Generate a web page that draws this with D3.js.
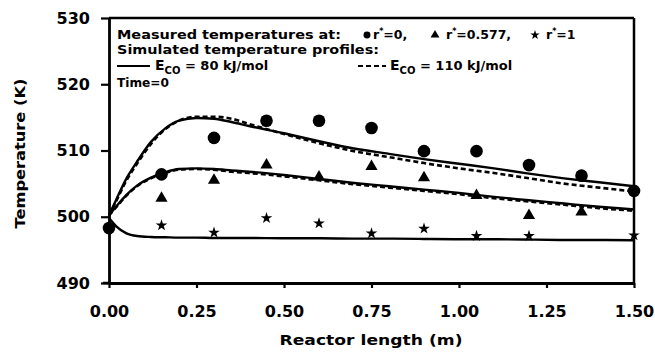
<!DOCTYPE html>
<html><head><meta charset="utf-8">
<script src="https://cdn.jsdelivr.net/npm/d3@7"></script>
<style>
html,body{margin:0;padding:0;background:#fff;}
svg{display:block;font-family:"DejaVu Sans",sans-serif;font-weight:bold;}
</style></head>
<body>
<svg id="c" width="655" height="354"></svg>
<script>
// ---- data ----
const xTicks = [0, 0.25, 0.5, 0.75, 1.0, 1.25, 1.5];
const yTicks = [490, 500, 510, 520, 530];
const xCenter = [0, 0.15, 0.3, 0.45, 0.6, 0.75, 0.9, 1.05, 1.2, 1.35, 1.5];
const tCenter = [498.3, 506.4, 511.9, 514.5, 514.5, 513.4, 509.9, 509.9, 507.8, 506.2, 503.9];
const xMid = [0.15, 0.3, 0.45, 0.6, 0.75, 0.9, 1.05, 1.2, 1.35];
const tMid = [502.8, 505.5, 507.8, 506.0, 507.6, 505.9, 503.2, 500.2, 500.7];
const xWall = [0.15, 0.3, 0.45, 0.6, 0.75, 0.9, 1.05, 1.2, 1.5];
const tWall = [498.7, 497.6, 499.8, 499.0, 497.5, 498.2, 497.1, 497.1, 497.2];

const xSim = [0, 0.02, 0.05, 0.08, 0.12, 0.16, 0.2, 0.25, 0.3, 0.35, 0.4, 0.5, 0.6, 0.7, 0.8, 0.9, 1.0, 1.1, 1.2, 1.3, 1.4, 1.5];
const simCenter80  = [500.2, 502.5, 505.8, 508.3, 511.3, 513.3, 514.5, 514.9, 514.8, 514.3, 513.7, 512.6, 511.4, 510.3, 509.5, 508.7, 508.0, 507.3, 506.5, 505.8, 505.2, 504.6];
const simCenter110 = [500.2, 502.3, 505.5, 508.0, 511.0, 513.2, 514.5, 515.1, 515.1, 514.8, 514.0, 512.5, 511.1, 509.9, 509.0, 508.1, 507.3, 506.6, 505.8, 505.0, 504.4, 503.8];
const simMid80  = [500.2, 501.5, 503.3, 504.7, 505.9, 506.7, 507.2, 507.3, 507.2, 507.0, 506.8, 506.3, 505.7, 505.1, 504.6, 504.1, 503.6, 503.0, 502.5, 502.0, 501.5, 501.1];
const simMid110 = [500.2, 501.4, 503.2, 504.6, 505.8, 506.6, 507.1, 507.2, 507.1, 506.8, 506.6, 506.1, 505.5, 504.9, 504.4, 503.9, 503.4, 502.8, 502.3, 501.8, 501.3, 500.9];
const simWall80 = [499.8, 498.6, 497.5, 497.1, 496.95, 496.9, 496.85, 496.85, 496.8, 496.8, 496.8, 496.75, 496.75, 496.7, 496.7, 496.65, 496.6, 496.6, 496.55, 496.5, 496.5, 496.45];

const legendTitle = "Measured temperatures at:";
const legendSim = "Simulated temperature profiles:";
const legendTime = "Time=0";

// ---- drawing ----
const svg = d3.select("#c");
const x = d3.scaleLinear().domain([0, 1.5]).range([109, 634]);
const y = d3.scaleLinear().domain([490, 530]).range([283, 18]);

// frame (top, right)
const frame = svg.append("g").attr("stroke", "#000").attr("stroke-width", 2.5).attr("fill", "none");
frame.append("line").attr("x1", x(0)).attr("x2", x(1.5)).attr("y1", y(530)).attr("y2", y(530));
frame.append("line").attr("x1", x(1.5)).attr("x2", x(1.5)).attr("y1", y(530)).attr("y2", y(490));

// axes
const yAxis = svg.append("g").attr("transform", `translate(${x(0)},0)`)
  .call(d3.axisLeft(y).tickValues(yTicks).tickSize(8).tickSizeOuter(0).tickPadding(11));
const xAxis = svg.append("g").attr("transform", `translate(0,${y(490)})`)
  .call(d3.axisBottom(x).tickValues(xTicks).tickFormat(d3.format(".2f")).tickSize(5).tickSizeOuter(0).tickPadding(18));
[xAxis, yAxis].forEach(g => {
  g.select(".domain").attr("stroke", "#000").attr("stroke-width", 2.8);
  g.selectAll(".tick line").attr("stroke", "#000").attr("stroke-width", 2.2);
  g.selectAll(".tick text").attr("fill", "#000").style("font-size", "16px").style("font-weight", "bold")
    .style("font-family", "'DejaVu Sans',sans-serif");
});
// small extension of x axis to the left
svg.append("line").attr("x1", x(0) - 6).attr("x2", x(0)).attr("y1", y(490)).attr("y2", y(490))
  .attr("stroke", "#000").attr("stroke-width", 2.5);

// axis titles
svg.append("text").attr("transform", `translate(25,${(y(490) + y(530)) / 2 + 3}) rotate(-90)`)
  .attr("text-anchor", "middle").style("font-size", "14px").attr("textLength", 150)
  .attr("lengthAdjust", "spacingAndGlyphs").text("Temperature (K)");
svg.append("text").attr("x", 371).attr("y", 345).attr("text-anchor", "middle")
  .style("font-size", "14px").attr("textLength", 183).attr("lengthAdjust", "spacingAndGlyphs")
  .text("Reactor length (m)");

// simulated curves
const line = d3.line().x((d, i) => x(xSim[i])).y(d => y(d)).curve(d3.curveMonotoneX);
const curves = svg.append("g").attr("fill", "none").attr("stroke", "#000").attr("stroke-width", 2.4);
[[simCenter110, true], [simMid110, true], [simCenter80, false], [simMid80, false], [simWall80, false]]
  .forEach(([s, dashed]) => {
    curves.append("path").attr("d", line(s))
      .attr("stroke-dasharray", dashed ? "5,3" : null)
      .attr("stroke-width", dashed ? 2.6 : 2.4);
  });

// measured markers
const sym = (type, size) => d3.symbol().type(type).size(size)();
const marks = svg.append("g").attr("fill", "#000");
tCenter.forEach((t, i) => marks.append("path").attr("d", sym(d3.symbolCircle, 125))
  .attr("transform", `translate(${x(xCenter[i])},${y(t)})`));
tMid.forEach((t, i) => marks.append("path").attr("d", sym(d3.symbolTriangle, 64))
  .attr("transform", `translate(${x(xMid[i])},${y(t)})`));
tWall.forEach((t, i) => marks.append("path").attr("d", sym(d3.symbolStar, 42))
  .attr("transform", `translate(${x(xWall[i])},${y(t)})`));

// legend
const lg = svg.append("g").style("font-size", "12.5px");
const r1 = 39, r2 = 54, r3 = 70, r4 = 87;
lg.append("text").attr("x", 117).attr("y", r1).attr("textLength", 224).attr("lengthAdjust", "spacingAndGlyphs").text(legendTitle);
lg.append("path").attr("d", sym(d3.symbolCircle, 38)).attr("transform", `translate(367,${r1 - 4})`);
const rStar = (xx, val) => {
  const t = lg.append("text").attr("x", xx).attr("y", r1);
  t.append("tspan").text("r");
  t.append("tspan").attr("dy", -5).style("font-size", "8px").text("*");
  t.append("tspan").attr("dy", 5).text(val);
};
rStar(373, "=0,");
lg.append("path").attr("d", sym(d3.symbolTriangle, 34)).attr("transform", `translate(435,${r1 - 4})`);
rStar(446, "=0.577,");
lg.append("path").attr("d", sym(d3.symbolStar, 28)).attr("transform", `translate(535,${r1 - 4})`);
rStar(546, "=1");
lg.append("text").attr("x", 117).attr("y", r2).attr("textLength", 262).attr("lengthAdjust", "spacingAndGlyphs").text(legendSim);
// row 3
lg.append("line").attr("x1", 117).attr("x2", 150).attr("y1", r3 - 4).attr("y2", r3 - 4).attr("stroke", "#000").attr("stroke-width", 2.2);
const eco = (xx, rest) => {
  const t = lg.append("text").attr("x", xx).attr("y", r3);
  t.append("tspan").style("font-size", "14px").text("E");
  t.append("tspan").attr("dy", 4).style("font-size", "10px").text("CO");
  t.append("tspan").attr("dy", -4).style("font-size", "13px").text(rest);
};
eco(155, " = 80 kJ/mol");
lg.append("line").attr("x1", 358).attr("x2", 386).attr("y1", r3 - 4).attr("y2", r3 - 4).attr("stroke", "#000")
  .attr("stroke-width", 2.2).attr("stroke-dasharray", "5,3");
eco(390, " = 110 kJ/mol");
lg.append("text").attr("x", 117).attr("y", r4).attr("textLength", 52).attr("lengthAdjust", "spacingAndGlyphs").text(legendTime);
</script>
</body></html>
